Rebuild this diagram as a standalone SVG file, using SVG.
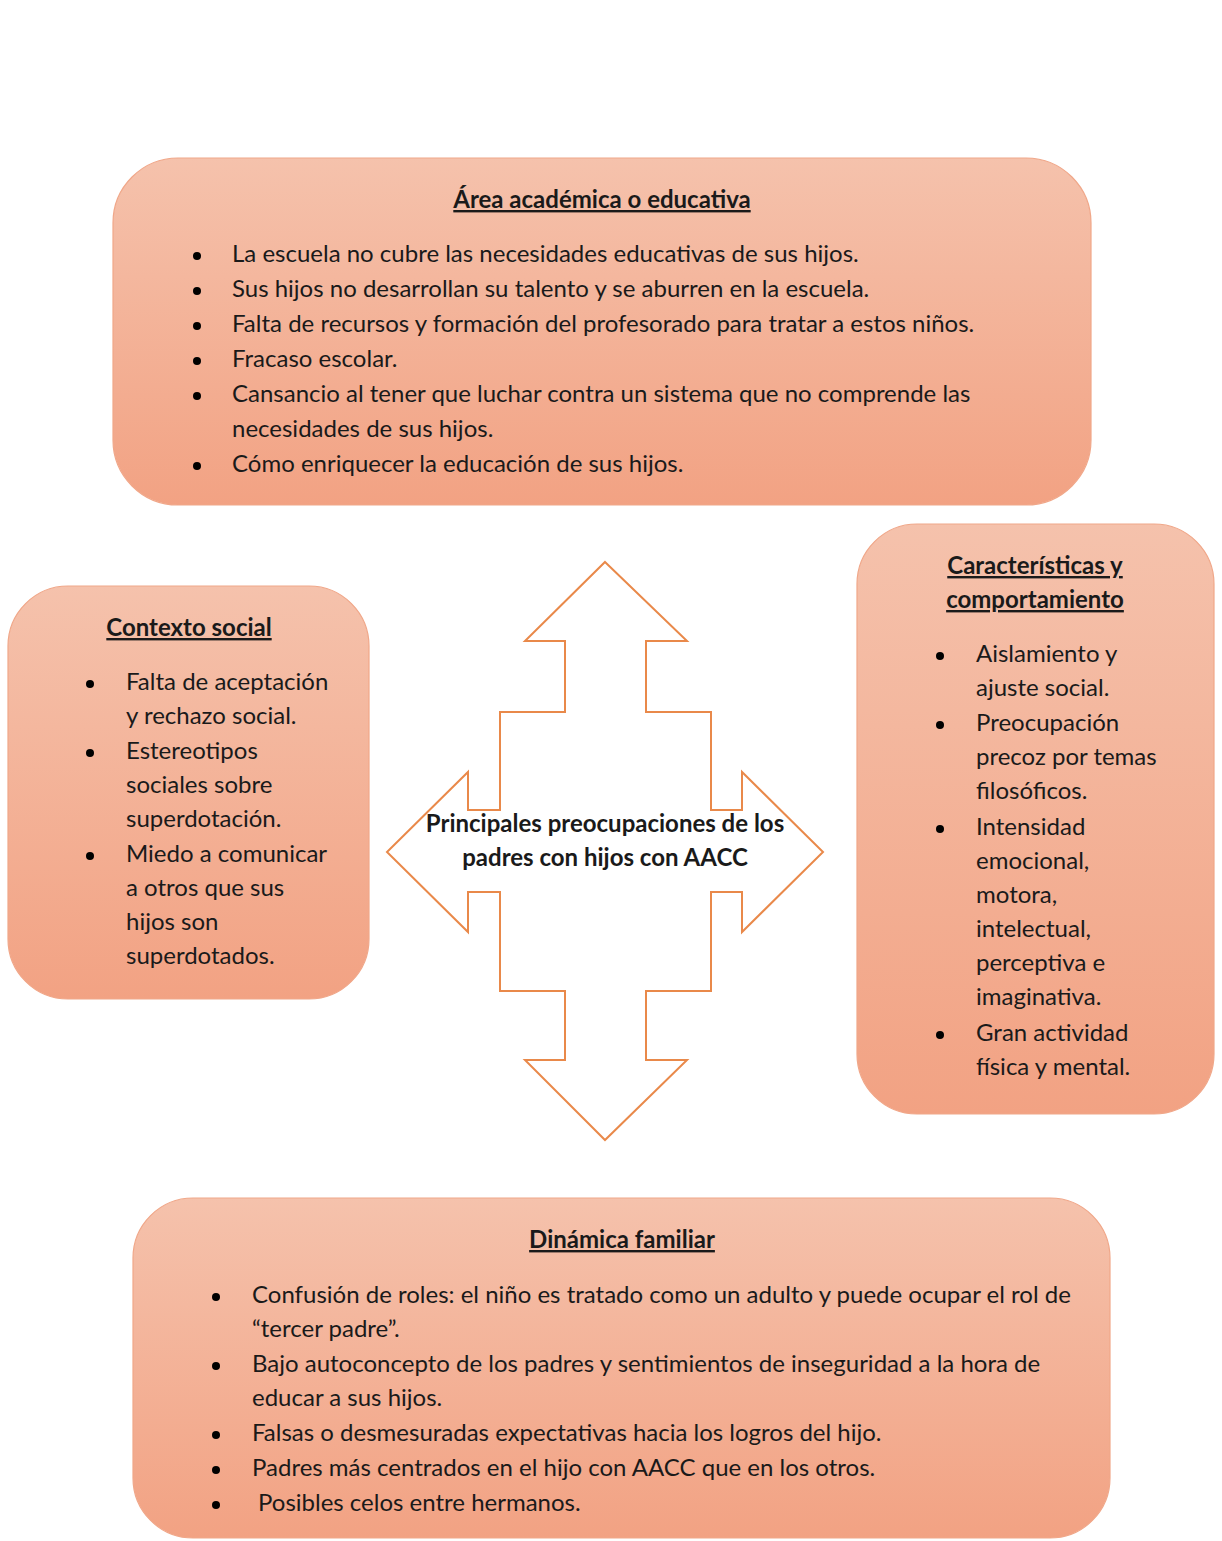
<svg xmlns="http://www.w3.org/2000/svg" width="1222" height="1541" viewBox="0 0 1222 1541">
<defs>
<linearGradient id="g" x1="0" y1="0" x2="0" y2="1">
<stop offset="0" stop-color="#F5C2AC"/>
<stop offset="1" stop-color="#F2A283"/>
</linearGradient>
<style>
.box{fill:url(#g);stroke:#F0A789;stroke-width:1.2}
text{font-family:Lato,"Open Sans","Liberation Sans",sans-serif;font-size:24px;fill:#1a1a1a}
.t{font-weight:bold;text-decoration:underline;text-anchor:middle}
.c{font-weight:bold;text-anchor:middle}
.arrow{fill:#ffffff;stroke:#E9894A;stroke-width:2;stroke-linejoin:miter}
</style>
</defs>
<rect width="1222" height="1541" fill="#ffffff"/>

<g id="connectors">
<path class="arrow" d="M605,562 L687,641 L646,641 L646,712 L711,712 L711,810 L742,810 L742,772 L823,852 L742,932 L742,892 L711,892 L711,991 L646,991 L646,1060 L687,1060 L605,1140 L525,1060 L565,1060 L565,991 L500,991 L500,892 L468,892 L468,932 L387,852 L468,772 L468,810 L500,810 L500,712 L565,712 L565,641 L525,641 Z"/>
</g>

<g id="center">
<text class="c" x="605" y="832">Principales preocupaciones de los</text>
<text class="c" x="605" y="866">padres con hijos con AACC</text>
</g>

<g id="academica">
<rect class="box" x="113" y="158" width="978" height="347" rx="65" ry="65"/>
<text class="t" x="602" y="208">Área académica o educativa</text>
<g>
<circle cx="197" cy="256" r="4"/><text x="232" y="262">La escuela no cubre las necesidades educativas de sus hijos.</text>
<circle cx="197" cy="291" r="4"/><text x="232" y="297">Sus hijos no desarrollan su talento y se aburren en la escuela.</text>
<circle cx="197" cy="326" r="4"/><text x="232" y="332">Falta de recursos y formación del profesorado para tratar a estos niños.</text>
<circle cx="197" cy="361" r="4"/><text x="232" y="367">Fracaso escolar.</text>
<circle cx="197" cy="396" r="4"/><text x="232" y="402">Cansancio al tener que luchar contra un sistema que no comprende las</text>
<text x="232" y="437">necesidades de sus hijos.</text>
<circle cx="197" cy="466" r="4"/><text x="232" y="472">Cómo enriquecer la educación de sus hijos.</text>
</g>
</g>

<g id="contexto">
<rect class="box" x="8" y="586" width="361" height="413" rx="60" ry="60"/>
<text class="t" x="189" y="636">Contexto social</text>
<circle cx="90" cy="684" r="4"/><text x="126" y="690">Falta de aceptación</text>
<text x="126" y="724">y rechazo social.</text>
<circle cx="90" cy="753" r="4"/><text x="126" y="759">Estereotipos</text>
<text x="126" y="793">sociales sobre</text>
<text x="126" y="827">superdotación.</text>
<circle cx="90" cy="856" r="4"/><text x="126" y="862">Miedo a comunicar</text>
<text x="126" y="896">a otros que sus</text>
<text x="126" y="930">hijos son</text>
<text x="126" y="964">superdotados.</text>
</g>

<g id="caracteristicas">
<rect class="box" x="857" y="524" width="357" height="590" rx="60" ry="60"/>
<text class="t" x="1035" y="574">Características y</text>
<text class="t" x="1035" y="608">comportamiento</text>
<circle cx="940" cy="656" r="4"/><text x="976" y="662">Aislamiento y</text>
<text x="976" y="696">ajuste social.</text>
<circle cx="940" cy="725" r="4"/><text x="976" y="731">Preocupación</text>
<text x="976" y="765">precoz por temas</text>
<text x="976" y="799">filosóficos.</text>
<circle cx="940" cy="829" r="4"/><text x="976" y="835">Intensidad</text>
<text x="976" y="869">emocional,</text>
<text x="976" y="903">motora,</text>
<text x="976" y="937">intelectual,</text>
<text x="976" y="971">perceptiva e</text>
<text x="976" y="1005">imaginativa.</text>
<circle cx="940" cy="1035" r="4"/><text x="976" y="1041">Gran actividad</text>
<text x="976" y="1075">física y mental.</text>
</g>

<g id="dinamica">
<rect class="box" x="133" y="1198" width="977" height="340" rx="60" ry="60"/>
<text class="t" x="622" y="1248">Dinámica familiar</text>
<circle cx="216" cy="1297" r="4"/><text x="252" y="1303">Confusión de roles: el niño es tratado como un adulto y puede ocupar el rol de</text>
<text x="252" y="1337">“tercer padre”.</text>
<circle cx="216" cy="1366" r="4"/><text x="252" y="1372">Bajo autoconcepto de los padres y sentimientos de inseguridad a la hora de</text>
<text x="252" y="1406">educar a sus hijos.</text>
<circle cx="216" cy="1435" r="4"/><text x="252" y="1441">Falsas o desmesuradas expectativas hacia los logros del hijo.</text>
<circle cx="216" cy="1470" r="4"/><text x="252" y="1476">Padres más centrados en el hijo con AACC que en los otros.</text>
<circle cx="216" cy="1505" r="4"/><text x="258" y="1511">Posibles celos entre hermanos.</text>
</g>
</svg>
